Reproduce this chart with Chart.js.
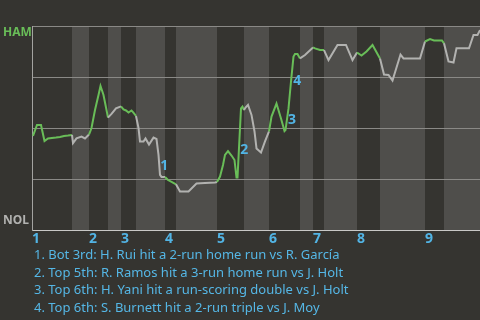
<!DOCTYPE html>
<html><head><meta charset="utf-8">
<script src="https://cdn.jsdelivr.net/npm/chart.js@4"></script>
<style>
html,body{margin:0;padding:0;background:#353430;width:480px;height:320px;overflow:hidden}
#wrap{position:absolute;left:0;top:0;width:480px;height:248px}
#list{position:absolute;left:34px;top:246px;margin:0;padding:0;list-style:none;font:13px "Noto Sans",sans-serif;color:#55b7e6;line-height:17.6px;white-space:nowrap}
#list li{margin:0;padding:0}
</style></head><body>
<div id="wrap"><canvas id="c"></canvas></div>
<ul id="list"></ul>
<script>
// game progress (x) and HAM win probability in % (y)
const progress = [1,5,9,12.5,16,24,28,32,36,40,
  41,44.5,49.5,53,57,
  59.5,63,66.5,68.5,71.5,73.5,76,
  79.5,84,89,
  91.5,94,96.5,99.5,101,104,
  106.5,108,111.5,113.5,117,121.5,124.5,126.5,128,129.5,133,
  136,140,144,
  148,156.5,164.5,173,183,185,
  188,191,193,196,199.5,202.5,204.5,205.5,209,210.5,212,
  213.5,216,219.5,222.5,224.5,229,233,237,
  239.5,244.5,249,252.5,253.5,256.5,259,261.5,263,265.5,268,
  273,281,
  283,288,292,
  296.5,305.5,314,320.5,325,
  329.5,334.5,340.5,348,
  352,356.5,360.5,368.5,371.5,388,393,
  398,402,410,412,
  416.5,421.5,424.5,437,441.5,445.5,448];
const winPct = [46.1,51.5,51.5,43.6,44.9,45.3,45.6,46.1,46.3,46.6,
  42.6,44.9,45.8,44.9,46.8,
  50.0,58.8,66.2,70.6,66.2,61.3,55.1,
  56.9,59.6,60.6,
  59.1,58.6,57.6,58.6,57.8,55.9,
  50.0,43.4,43.4,44.9,41.9,45.3,44.6,36.8,27.0,26.0,26.0,
  24.5,23.5,22.4,
  18.9,18.9,22.8,23.0,23.3,23.5,
  26.2,31.9,36.8,38.7,36.5,34.3,25.7,25.7,59.6,60.5,58.8,
  60.0,61.3,56.4,48.3,40.0,38.0,43.4,48.3,
  55.6,62.0,54.7,48.5,49.0,59.6,72.8,85.0,86.3,86.3,84.1,
  85.8,89.5,
  89.0,88.2,88.2,
  83.3,90.7,90.7,83.3,87.0,
  85.5,87.5,90.7,84.1,
  76.2,76.0,73.3,86.0,84.1,84.1,92.4,
  93.6,92.9,92.9,91.5,
  82.6,82.1,89.1,89.1,95.6,95.6,98.0];
// half-inning boundaries (top 1st, bot 1st, top 2nd, ...)
const halfBounds = [0,40,57,76,89,104,133,144,185,212,237,268,281,292,325,348,393,412,448];
const inningLabels = ['1','2','3','4','5','6','7','8','9'];
const teamLabels = ['NOL','HAM'];
const teamLabelValues = [4.4, 96.6];
// end of the segment for each numbered event
const eventProgress = [128, 209, 256.5, 261.5];
const eventTexts = [
  '1. Bot 3rd: H. Rui hit a 2-run home run vs R. García',
  '2. Top 5th: R. Ramos hit a 3-run home run vs J. Holt',
  '3. Top 6th: H. Yani hit a run-scoring double vs J. Holt',
  '4. Top 6th: S. Burnett hit a 2-run triple vs J. Moy'
];

const GREEN = '#69bd58', GRAY = '#b2b2b0', BLUE = '#52b4e4', LIGHT = '#4f4e4b';
const inningStarts = halfBounds.filter((v, i) => i % 2 === 0 && i < halfBounds.length - 1);

function halfIndex(x) {
  for (let k = 0; k < halfBounds.length - 1; k++) {
    if (x >= halfBounds[k] && x < halfBounds[k + 1]) return k;
  }
  return halfBounds.length - 2;
}

document.getElementById('list').innerHTML = eventTexts.map(t => '<li>' + t + '</li>').join('');

const bandsPlugin = {
  id: 'bands',
  beforeDraw(chart) {
    const {ctx, chartArea: a, scales: {x}} = chart;
    ctx.save();
    ctx.fillStyle = LIGHT;
    for (let k = 1; k < halfBounds.length - 1; k += 2) {
      const x0 = x.getPixelForValue(halfBounds[k]);
      const x1 = x.getPixelForValue(halfBounds[k + 1]);
      ctx.fillRect(x0, a.top, x1 - x0, a.bottom - a.top);
    }
    ctx.restore();
  }
};

const eventOffsets = [[5, 1], [5, 7], [5, 1], [5, 12]];
const eventPlugin = {
  id: 'events',
  afterDatasetsDraw(chart) {
    const {ctx, scales: {x, y}} = chart;
    ctx.save();
    ctx.font = 'bold 14px "Noto Sans"';
    ctx.fillStyle = BLUE;
    ctx.textAlign = 'center';
    ctx.textBaseline = 'middle';
    eventProgress.forEach((p, i) => {
      const j = progress.indexOf(p);
      const mx = (x.getPixelForValue(progress[j - 1]) + x.getPixelForValue(progress[j])) / 2;
      const my = (y.getPixelForValue(winPct[j - 1]) + y.getPixelForValue(winPct[j])) / 2;
      ctx.fillText(String(i + 1), mx + eventOffsets[i][0], my + eventOffsets[i][1]);
    });
    ctx.restore();
  }
};

new Chart(document.getElementById('c'), {
  type: 'line',
  data: {
    datasets: [{
      data: progress.map((p, i) => ({x: p, y: winPct[i]})),
      borderWidth: 2,
      pointRadius: 0,
      tension: 0,
      borderColor: GRAY,
      segment: {
        borderColor: c => halfIndex((c.p0.parsed.x + c.p1.parsed.x) / 2) % 2 === 0 ? GREEN : GRAY
      }
    }]
  },
  options: {
    responsive: true,
    maintainAspectRatio: false,
    animation: false,
    layout: {padding: {top: 26, left: 3, right: 0, bottom: 0}},
    plugins: {legend: {display: false}, tooltip: {enabled: false}},
    scales: {
      x: {
        type: 'linear', min: 0, max: 448,
        afterBuildTicks: s => { s.ticks = inningStarts.map(v => ({value: v})); },
        afterFit: s => { s.height = 18; },
        grid: {display: false, drawTicks: false},
        border: {display: true, color: '#c8c8c6', width: 1},
        ticks: {
          callback: (v, i) => inningLabels[i],
          align: 'start', autoSkip: false, maxRotation: 0, padding: 1,
          color: BLUE, font: {family: 'Noto Sans', weight: 'bold', size: 14}
        }
      },
      yl: {
        type: 'linear', position: 'left', weight: 10, min: 0, max: 100,
        afterBuildTicks: s => { s.ticks = teamLabelValues.map(v => ({value: v})); },
        afterFit: s => { s.width = 29; },
        grid: {display: false, drawTicks: false},
        border: {display: false},
        ticks: {
          callback: (v, i) => teamLabels[i],
          crossAlign: 'far', padding: 0,
          color: c => c.tick && c.tick.value > 50 ? GREEN : GRAY,
          font: {family: 'Noto Sans', weight: 'bold', size: 12}
        }
      },
      y: {
        type: 'linear', position: 'left', weight: 0, min: 0, max: 100,
        afterFit: s => { s.width = 0; },
        grid: {drawTicks: false, color: c => c.tick && c.tick.value === 0 ? 'rgba(0,0,0,0)' : '#8a8986', lineWidth: 1},
        border: {display: true, color: '#a3a3a0', width: 1},
        ticks: {display: false, stepSize: 25}
      }
    }
  },
  plugins: [bandsPlugin, eventPlugin]
});
</script>
</body></html>
